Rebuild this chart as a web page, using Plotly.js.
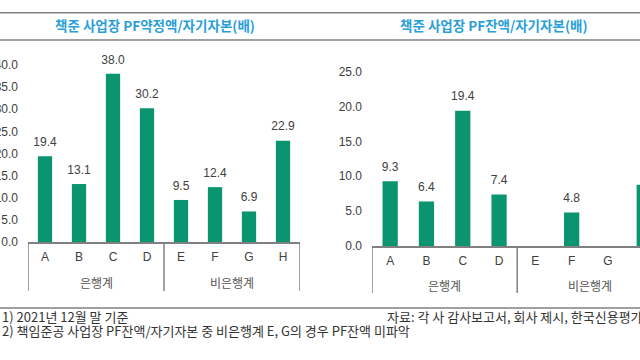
<!DOCTYPE html>
<html>
<head>
<meta charset="utf-8">
<script src="https://cdn.plot.ly/plotly-3.0.1.min.js"></script>
<style>html,body{margin:0;padding:0;background:#fff;}#chart{width:640px;height:360px;}</style>
</head>
<body>
<div id="chart"></div>
<script>
// ---- data ----
const categories = ['A', 'B', 'C', 'D', 'E', 'F', 'G', 'H'];
const groups = ['은행계', '은행계', '은행계', '은행계', '비은행계', '비은행계', '비은행계', '비은행계'];
const commitmentRatio = [19.4, 13.1, 38.0, 30.2, 9.5, 12.4, 6.9, 22.9];   // PF약정액/자기자본
const balanceRatio = [9.3, 6.4, 19.4, 7.4, null, 4.8, null, 8.8];         // PF잔액/자기자본
const leftTitle = '책준 사업장 PF약정액/자기자본(배)';
const rightTitle = '책준 사업장 PF잔액/자기자본(배)';
const note1 = '1) 2021년 12월 말 기준';
const note2 = '2) 책임준공 사업장 PF잔액/자기자본 중 비은행계 E, G의 경우 PF잔액 미파악';
const source = '자료: 각 사 감사보고서, 회사 제시, 한국신용평가';

// ---- style ----
const W = 640, H = 360;
const py = p => 1 - p / H;
const GREEN = '#0a9470';
const TXT = '#404040';
const LINE = '#808080';
const NUM_FONT = 'Liberation Sans, Arial, sans-serif';
const KR_FONT = 'Noto Sans CJK KR, sans-serif';

const labelTrace = (vals, xa, ya) => ({
  type: 'scatter', mode: 'markers+text', x: categories, y: vals, xaxis: xa, yaxis: ya,
  text: vals.map(v => v == null ? '' : v.toFixed(1)), textposition: 'top center',
  marker: {size: 10, color: 'rgba(0,0,0,0)', line: {width: 0}}, cliponaxis: false,
  textfont: {family: NUM_FONT, size: 12, color: TXT}, hoverinfo: 'skip'
});

const traces = [
  {type: 'bar', x: categories, y: commitmentRatio, xaxis: 'x', yaxis: 'y',
   marker: {color: GREEN}, hoverinfo: 'skip'},
  labelTrace(commitmentRatio, 'x', 'y'),
  {type: 'bar', x: categories, y: balanceRatio, xaxis: 'x2', yaxis: 'y2',
   marker: {color: GREEN}, hoverinfo: 'skip'},
  labelTrace(balanceRatio, 'x2', 'y2')
];

// group boundaries and centres from the arrays
const groupInfo = [];
groups.forEach((g, i) => {
  const last = groupInfo[groupInfo.length - 1];
  if (last && last.name === g) last.end = i; else groupInfo.push({name: g, start: i, end: i});
});
const bounds = [groupInfo[0].start - 0.5].concat(groupInfo.map(g => g.end + 0.5));

const shapes = [
  {type: 'line', xref: 'paper', yref: 'paper', x0: 0, x1: 1, y0: py(12.7), y1: py(12.7), line: {color: LINE, width: 1.6}},
  {type: 'line', xref: 'paper', yref: 'paper', x0: 0, x1: 1, y0: py(40), y1: py(40), line: {color: LINE, width: 1.6}},
  {type: 'line', xref: 'paper', yref: 'paper', x0: 0, x1: 1, y0: py(308), y1: py(308), line: {color: LINE, width: 1.6}}
];
bounds.forEach(b => {
  shapes.push({type: 'line', xref: 'x', yref: 'paper', x0: b, x1: b, y0: py(242), y1: py(291), line: {color: LINE, width: 1.5}});
  shapes.push({type: 'line', xref: 'x2', yref: 'paper', x0: b, x1: b, y0: py(246), y1: py(293), line: {color: LINE, width: 1.5}});
});

const annotations = [
  {text: '<b>' + leftTitle + '</b>', xref: 'paper', yref: 'paper', x: 155 / W, y: py(25), showarrow: false,
   xanchor: 'center', yanchor: 'middle', font: {family: KR_FONT, size: 13.5, color: '#2b9fd8'}},
  {text: '<b>' + rightTitle + '</b>', xref: 'paper', yref: 'paper', x: 494 / W, y: py(25), showarrow: false,
   xanchor: 'center', yanchor: 'middle', font: {family: KR_FONT, size: 13.5, color: '#2b9fd8'}},
  {text: note1, xref: 'paper', yref: 'paper', x: 0, y: py(316), showarrow: false, xanchor: 'left', yanchor: 'middle',
   font: {family: KR_FONT, size: 13, color: '#333333'}},
  {text: note2, xref: 'paper', yref: 'paper', x: 0, y: py(330.5), showarrow: false, xanchor: 'left', yanchor: 'middle',
   font: {family: KR_FONT, size: 13, color: '#333333'}},
  {text: source, xref: 'paper', yref: 'paper', x: 385 / W, y: py(316), showarrow: false, xanchor: 'left', yanchor: 'middle',
   font: {family: KR_FONT, size: 13, color: '#333333'}}
];
groupInfo.forEach(g => {
  const c = (g.start + g.end) / 2;
  annotations.push({text: g.name, xref: 'x', yref: 'paper', x: c, y: py(282), showarrow: false,
    xanchor: 'center', yanchor: 'middle', font: {family: KR_FONT, size: 12, color: '#555555'}});
  annotations.push({text: g.name, xref: 'x2', yref: 'paper', x: c, y: py(285), showarrow: false,
    xanchor: 'center', yanchor: 'middle', font: {family: KR_FONT, size: 12, color: '#555555'}});
});

const xCommon = {type: 'category', showline: true, linecolor: LINE, linewidth: 1.5, ticks: '',
  showgrid: false, zeroline: false, tickfont: {family: NUM_FONT, size: 12, color: TXT},
  ticklabelstandoff: 3, fixedrange: true};
const yCommon = {showline: false, showgrid: false, zeroline: false, ticks: '', tickformat: '.1f',
  tickfont: {family: NUM_FONT, size: 12, color: TXT}, ticklabelstandoff: 9, fixedrange: true};

const layout = {
  width: W, height: H,
  margin: {l: 0, r: 0, t: 0, b: 0},
  paper_bgcolor: '#ffffff', plot_bgcolor: '#ffffff',
  showlegend: false, bargap: 0.58,
  xaxis: Object.assign({}, xCommon, {domain: [28 / W, 300 / W], range: [-0.5, 7.5], anchor: 'y'}),
  yaxis: Object.assign({}, yCommon, {domain: [py(242), py(65)], range: [0, 40], dtick: 5, anchor: 'x'}),
  xaxis2: Object.assign({}, xCommon, {domain: [372 / W, 1], range: [-0.5, -0.5 + 268 / 36.3], anchor: 'y2'}),
  yaxis2: Object.assign({}, yCommon, {domain: [py(246), py(71.7)], range: [0, 25], dtick: 5, anchor: 'x2'}),
  shapes: shapes,
  annotations: annotations
};

Plotly.newPlot('chart', traces, layout, {staticPlot: true, displayModeBar: false});
</script>
</body>
</html>
